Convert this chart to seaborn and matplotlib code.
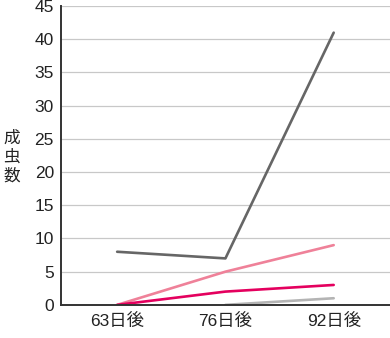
import pandas as pd
import numpy as np
import matplotlib
matplotlib.use("Agg")
import matplotlib.pyplot as plt
import seaborn as sns

# data
days = ["63日後", "76日後", "92日後"]
series_a = [8, 7, 41]       # dark grey
series_b = [0, 5, 9]        # pink
series_c = [0, 2, 3]        # magenta
series_d = [np.nan, 0, 1]   # light grey
y_ticks = list(range(0, 46, 5))

names = ["a", "b", "c", "d"]
colors = {"a": "#666666", "b": "#ef8199", "c": "#e4005e", "d": "#b4b4b4"}

df = pd.DataFrame({
    "x": list(range(len(days))) * 4,
    "value": series_a + series_b + series_c + series_d,
    "series": [n for n in names for _ in days],
})
df = df.dropna()

sns.set_style("white")
plt.rcParams["font.family"] = ["Liberation Sans", "Noto Sans CJK JP"]

fig = plt.figure(figsize=(3.9, 3.38), dpi=100)
ax = fig.add_axes([0.156, 0.098, 0.844, 0.884])

sns.lineplot(data=df, x="x", y="value", hue="series", hue_order=names,
             palette=colors, linewidth=1.9, legend=False, ax=ax)

ax.set_xlim(-0.52, 2.52)
ax.set_ylim(0, 45)
ax.set_yticks(y_ticks)
ax.set_xticks(range(len(days)))
ax.set_xticklabels(days)
ax.tick_params(axis="x", direction="in", length=5, width=0.8, color="#444444",
               labelsize=12.5, pad=6, labelcolor="#222222")
ax.tick_params(axis="y", length=0, labelsize=12.5, pad=5, labelcolor="#222222")
ax.yaxis.grid(True, color="#c8c8c8", linewidth=0.9)
ax.set_axisbelow(True)
for s in ["top", "right"]:
    ax.spines[s].set_visible(False)
for s in ["left", "bottom"]:
    ax.spines[s].set_color("#333333")
    ax.spines[s].set_linewidth(1.4)

ax.set_xlabel("")
ax.set_ylabel("")
fig.text(0.029, 0.536, "成\n虫\n数", ha="center", va="center", fontsize=12,
         linespacing=1.15, color="#222222",
         family=["Noto Sans CJK JP", "DejaVu Sans"])

fig.savefig("out.png", dpi=100)
